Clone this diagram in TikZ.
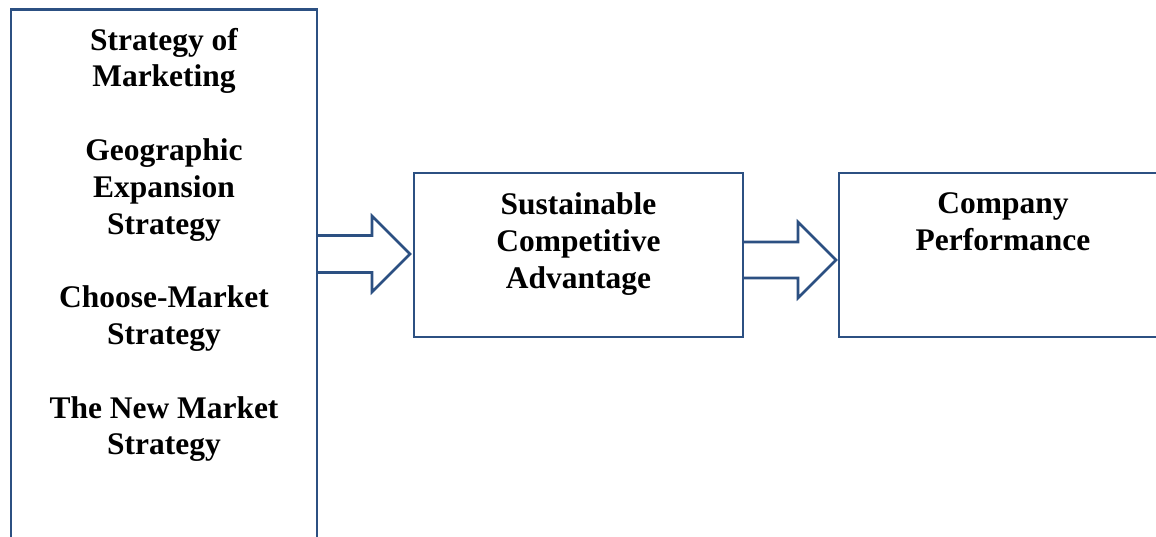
\documentclass[tikz,border=0pt]{standalone}
\usepackage{fontspec}
\setmainfont{Liberation Serif}
\usetikzlibrary{positioning,calc}
\definecolor{boxblue}{RGB}{44,80,130}

\begin{document}
\begin{tikzpicture}[x=0.75pt,y=-0.75pt]
\tikzstyle{box}=[draw=boxblue,line width=2.1pt,rectangle,outer sep=0pt,inner sep=0pt]
\tikzstyle{label}=[align=center,inner sep=0pt,font=\fontsize{23.6pt}{27.6pt}\selectfont\bfseries]
\tikzstyle{blockarr}=[draw=boxblue,line width=1.9pt,line join=miter]
\useasboundingbox (0,0) rectangle (1156,536);
\clip (0,0) rectangle (1156,536);
% boxes
\node [box,minimum width=229.5pt,minimum height=422pt] (strat) at (164,290.5) {};
\node [box,minimum width=246.75pt,minimum height=123pt] (sca) at (578.5,255) {};
\node [box,minimum width=246pt,minimum height=123pt] (perf) at (1003,255) {};
% texts
\node [label,below=13.9pt of strat.north] (strattext)
  {Strategy of\\Marketing\\ \\Geographic\\Expansion\\Strategy\\ \\Choose-Market\\Strategy\\ \\The New Market\\Strategy};
\node [label,below=14.6pt of sca.north] (scatext) {Sustainable\\Competitive\\Advantage};
\node [label,below=14.6pt of perf.north] (perftext) {Company\\Performance};
% block arrows
\coordinate (tip1) at ($(sca.west)+(-4,-1)$);
\coordinate (tip2) at ($(perf.west)+(-3,5)$);
\draw [blockarr] ($(strat.east |- tip1)+(0,-18.5)$) -- ($(tip1)+(-38,-18.5)$) -- ($(tip1)+(-38,-38)$)
  -- (tip1) -- ($(tip1)+(-38,38)$) -- ($(tip1)+(-38,18.5)$) -- ($(strat.east |- tip1)+(0,18.5)$);
\draw [blockarr] ($(sca.east |- tip2)+(0,-18)$) -- ($(tip2)+(-38,-18)$) -- ($(tip2)+(-38,-38)$)
  -- (tip2) -- ($(tip2)+(-38,38)$) -- ($(tip2)+(-38,18)$) -- ($(sca.east |- tip2)+(0,18)$);
\end{tikzpicture}
\end{document}
